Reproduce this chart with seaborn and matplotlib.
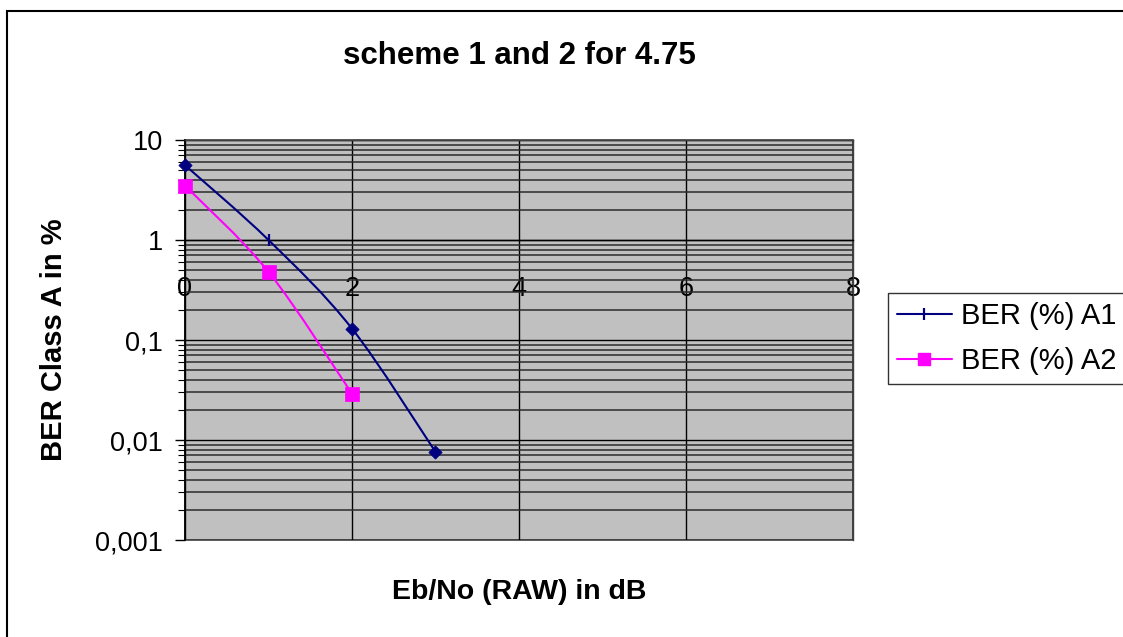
import numpy as np
import matplotlib
matplotlib.use('Agg')
import matplotlib.pyplot as plt
from matplotlib.path import Path
from matplotlib.patches import PathPatch, Rectangle
from matplotlib.lines import Line2D
from matplotlib.ticker import LogLocator, NullFormatter
import seaborn as sns

# ── Data ──────────────────────────────────────────────────────────────────────
ebno_a1 = [0, 1, 2, 3]
ber_a1 = [5.6, 1.0, 0.13, 0.0076]
ebno_a2 = [0, 1, 2]
ber_a2 = [3.5, 0.48, 0.029]

x_ticks = [0, 2, 4, 6, 8]
y_ticks = [0.001, 0.01, 0.1, 1, 10]
y_tick_labels = ['0,001', '0,01', '0,1', '1', '10']

# ── Style ─────────────────────────────────────────────────────────────────────
NAVY = '#000080'
MAGENTA = '#FF00FF'
PLOT_BG = '#C0C0C0'
A1_MARKERS = ['D', '|', 'D', 'D']   # Excel per-point markers for series A1

sns.set_style('white')
plt.rcParams['font.family'] = ['Liberation Sans', 'DejaVu Sans']
plt.rcParams.update({'text.color': 'black', 'axes.labelcolor': 'black',
                     'xtick.color': 'black', 'ytick.color': 'black'})


def smooth_path(xs, ys):
    """Excel-like smoothed line: cubic Bezier through the points in (x, log y)."""
    pts = np.column_stack([np.asarray(xs, float), np.log10(ys)])
    n = len(pts)
    verts, codes = [pts[0]], [Path.MOVETO]
    for i in range(n - 1):
        p0, p1 = pts[max(i - 1, 0)], pts[i]
        p2, p3 = pts[i + 1], pts[min(i + 2, n - 1)]
        verts += [p1 + (p2 - p0) / 6, p2 - (p3 - p1) / 6, p2]
        codes += [Path.CURVE4] * 3
    verts = np.array(verts)
    verts[:, 1] = 10 ** verts[:, 1]
    return Path(verts, codes)


fig = plt.figure(figsize=(11.23, 6.37), dpi=100)
ax = fig.add_axes([185 / 1123, 1 - 540 / 637, 668 / 1123, 400 / 637])
ax.set_facecolor(PLOT_BG)
ax.patch.set_edgecolor('#404040')
ax.patch.set_linewidth(1.2)

ax.set_yscale('log')
ax.set_xlim(0, 8)
ax.set_ylim(0.001, 10)

# grid
ax.set_xticks(x_ticks)
ax.set_yticks(y_ticks, labels=y_tick_labels)
ax.yaxis.set_minor_locator(LogLocator(base=10, subs=range(2, 10)))
ax.yaxis.set_minor_formatter(NullFormatter())
ax.grid(True, which='major', axis='both', color='black', linewidth=1.0)
ax.grid(True, which='minor', axis='y', color='#2a2a2a', linewidth=1.1)
ax.set_axisbelow(True)

# axes: x axis crosses at y = 1 like Excel
for side in ['top', 'right']:
    ax.spines[side].set_color('#404040')
    ax.spines[side].set_linewidth(1.0)
ax.spines['left'].set_color('black')
ax.spines['left'].set_linewidth(1.2)
ax.spines['bottom'].set_position(('data', 1))
ax.spines['bottom'].set_color('black')
ax.spines['bottom'].set_linewidth(1.0)

ax.tick_params(axis='x', length=0, pad=26, labelsize=19.5)
ax.tick_params(axis='y', which='major', direction='out', length=7, width=1,
               pad=9, labelsize=19.5, left=True)
ax.tick_params(axis='y', which='minor', direction='out', length=5, width=0.8,
               left=True)

# smoothed lines
ax.add_patch(PathPatch(smooth_path(ebno_a1, ber_a1), facecolor='none',
                       edgecolor=NAVY, linewidth=1.5, zorder=3))
ax.add_patch(PathPatch(smooth_path(ebno_a2, ber_a2), facecolor='none',
                       edgecolor=MAGENTA, linewidth=1.5, zorder=3))

# markers
for mk in set(A1_MARKERS):
    idx = [i for i, m in enumerate(A1_MARKERS) if m == mk]
    xs = [ebno_a1[i] for i in idx]
    ys = [ber_a1[i] for i in idx]
    if mk == 'D':
        sns.scatterplot(x=xs, y=ys, marker='D', s=46, color=NAVY,
                        edgecolor=NAVY, linewidth=0.5, ax=ax, zorder=4,
                        clip_on=False)
    else:
        sns.scatterplot(x=xs, y=ys, marker='|', s=85, color=NAVY,
                        linewidth=1.6, ax=ax, zorder=4, clip_on=False)
sns.scatterplot(x=ebno_a2, y=ber_a2, marker='s', s=88, color=MAGENTA,
                edgecolor=MAGENTA, linewidth=0.5, ax=ax, zorder=4,
                clip_on=False)

# titles
ax.set_title('scheme 1 and 2 for 4.75', fontsize=22.5, fontweight='bold',
             y=1 + 84 / 400, va='center', pad=0)
ax.set_xlabel('Eb/No (RAW) in dB', fontsize=20.5, fontweight='bold')
ax.xaxis.label.set_va('center')
ax.xaxis.set_label_coords(0.5, -52 / 400)
ax.set_ylabel('BER Class A in %', fontsize=21, fontweight='bold')
ax.yaxis.label.set_va('center')
ax.yaxis.set_label_coords(-131 / 668, 0.5)

# legend
handles = [
    Line2D([], [], color=NAVY, linewidth=1.5, marker='|', markersize=9,
           markeredgewidth=1.6),
    Line2D([], [], color=MAGENTA, linewidth=1.5, marker='s', markersize=9,
           markeredgecolor=MAGENTA),
]
leg = fig.legend(handles, ['BER (%) A1', 'BER (%) A2'], loc='upper left',
                 bbox_to_anchor=(888 / 1123, 1 - 293 / 637), fontsize=21,
                 frameon=True, fancybox=False, edgecolor='black',
                 handlelength=1.9, handletextpad=0.3, labelspacing=0.6,
                 borderpad=0.3, borderaxespad=0)
leg.get_frame().set_linewidth(1.0)

# chart-area border
fig.patches.append(Rectangle((7 / 1123, -0.05), 1.2, 1 - 11 / 637 + 0.05,
                             transform=fig.transFigure, fill=False,
                             edgecolor='black', linewidth=1.5))

fig.savefig('out.png', dpi=100)
